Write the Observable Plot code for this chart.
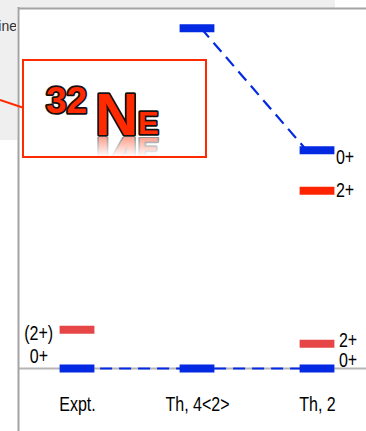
<!DOCTYPE html>
<html>
<head>
<meta charset="utf-8">
<script src="https://cdn.jsdelivr.net/npm/d3@7"></script>
<script src="https://cdn.jsdelivr.net/npm/@observablehq/plot@0.6"></script>
<style>
  html, body { margin: 0; padding: 0; background: white; }
  #wrap { position: relative; width: 366px; height: 431px; overflow: hidden; }
  .layer { position: absolute; left: 0; top: 0; }
</style>
</head>
<body>
<div id="wrap">
  <svg class="layer" width="366" height="431" id="bg">
    <rect x="0" y="0" width="335" height="8" fill="#efefef"></rect>
    <rect x="0" y="0" width="17" height="140" fill="#efefef"></rect>
    <clipPath id="clipIne"><rect x="0" y="0" width="16" height="60"></rect></clipPath>
    <text x="17" y="31" text-anchor="end" clip-path="url(#clipIne)" font-family="Liberation Sans, Arial, sans-serif" font-size="14" fill="#333">ine</text>
  </svg>
  <div class="layer" id="chart"></div>
  <svg class="layer" width="366" height="431" id="overlay" style="pointer-events:none">
    <defs>
      <linearGradient id="fade" x1="0" y1="0" x2="0" y2="1">
        <stop offset="0" stop-color="white" stop-opacity="0.45"></stop>
        <stop offset="1" stop-color="white" stop-opacity="0"></stop>
      </linearGradient>
      <mask id="reflMask" maskUnits="userSpaceOnUse" x="0" y="137" width="366" height="20">
        <rect x="0" y="137" width="366" height="20" fill="url(#fade)"></rect>
      </mask>
    </defs>
    <line x1="0" y1="100" x2="24" y2="108" stroke="#ff2a00" stroke-width="2"></line>
    <rect x="23" y="60" width="183" height="97" fill="white" stroke="#ff2a00" stroke-width="2"></rect>
    <g id="logo" font-family="Liberation Sans, Arial, sans-serif" font-weight="bold" fill="#ff2a00" stroke="#111" stroke-width="3.5" stroke-linejoin="round" paint-order="stroke fill">
      <text x="46" y="113" font-size="37"><tspan>32</tspan><tspan x="95" y="135" font-size="60">N</tspan><tspan x="138" y="134" font-size="31">E</tspan></text>
    </g>
    <g mask="url(#reflMask)">
      <use href="#logo" transform="translate(0,272) scale(1,-1)"></use>
    </g>
  </svg>
</div>
<script>
// ---- data ----
const categories = ["Expt.", "Th, 4<2>", "Th, 2"];
const levelColumn = [0, 0, 1, 1, 2, 2, 2, 2];
const levelEnergy = [0, 0.72, 0, 6.30, 0, 0.46, 3.29, 4.04];
const levelSpin   = ["0+", "(2+)", "0+", "0+", "0+", "2+", "2+", "0+"];
const levelBand   = ["ground", "ground", "ground", "excited", "ground", "ground", "excited", "excited"];
const linkFrom = [0, 3];
const linkTo   = [4, 7];

// ---- build ----
const levels = levelEnergy.map((E, i) => ({
  i, col: levelColumn[i], E, spin: levelSpin[i], band: levelBand[i]
}));
const links = linkFrom.map((f, k) => ({a: levels[f], b: levels[linkTo[k]]}));

const blue = "#0329e2";
const red = "#e64646";
const brightRed = "#ff2400";
const colorOf = d => d.spin.includes("0") ? blue : (d.band === "excited" ? brightRed : red);
const half = 0.145;

const xDomain = [-0.4917, 2.4083];
const yDomain = [-0.444, 6.667];
const font = "'Liberation Sans', Arial, sans-serif";

// label placement tweaks (style only): [level index, anchor, dx, dy]
const labelTweaks = [
  [0, "end", -12, -12],
  [1, "end", -7, 4],
  [4, "start", 4, -8],
  [5, "start", 4, -3],
  [6, "start", 1, 0],
  [7, "start", 1, 7]
];

const labelMarks = labelTweaks.map(([idx, anchor, dx, dy]) =>
  Plot.text([levels[idx]], {
    x: d => anchor === "end" ? d.col - half : d.col + half,
    y: "E",
    text: "spin",
    textAnchor: anchor,
    dx, dy,
    fill: "black"
  })
);

const chart = Plot.plot({
  width: 366,
  height: 431,
  marginLeft: 18,
  marginRight: 0,
  marginTop: 8,
  marginBottom: 39,
  style: {fontFamily: font, fontSize: "20px", background: "transparent", color: "black", overflow: "visible"},
  x: {domain: xDomain, ticks: [0, 1, 2], tickFormat: i => categories[i], tickSize: 0, tickPadding: 4, label: null},
  y: {domain: yDomain, axis: null},
  marks: [
    Plot.ruleY([0], {stroke: "#b5b5b5", strokeWidth: 2}),
    Plot.ruleX([xDomain[0]], {stroke: "#a3a3a3", strokeWidth: 2, insetBottom: -39, insetTop: -1}),
    Plot.ruleY([yDomain[1]], {stroke: "#a3a3a3", strokeWidth: 2}),
    Plot.link(links, {
      x1: d => d.a.col + 0.03, y1: d => d.a.E,
      x2: d => d.b.col - 0.09, y2: d => d.b.E,
      stroke: blue, strokeWidth: 2.2, strokeDasharray: "12,7"
    }),
    Plot.ruleY(levels, {
      x1: d => d.col - half, x2: d => d.col + half, y: "E",
      stroke: colorOf, strokeWidth: 8
    }),
    ...labelMarks
  ]
});

// condense all chart texts horizontally (Arial Narrow look) around their anchor
d3.select(chart).selectAll("text").each(function () {
  const t = this.getAttribute("transform") || "";
  const x = +(this.getAttribute("x") || 0);
  this.setAttribute("transform", `${t} translate(${x},0) scale(0.8,1) translate(${-x},0)`);
});

document.getElementById("chart").appendChild(chart);
</script>
</body>
</html>
